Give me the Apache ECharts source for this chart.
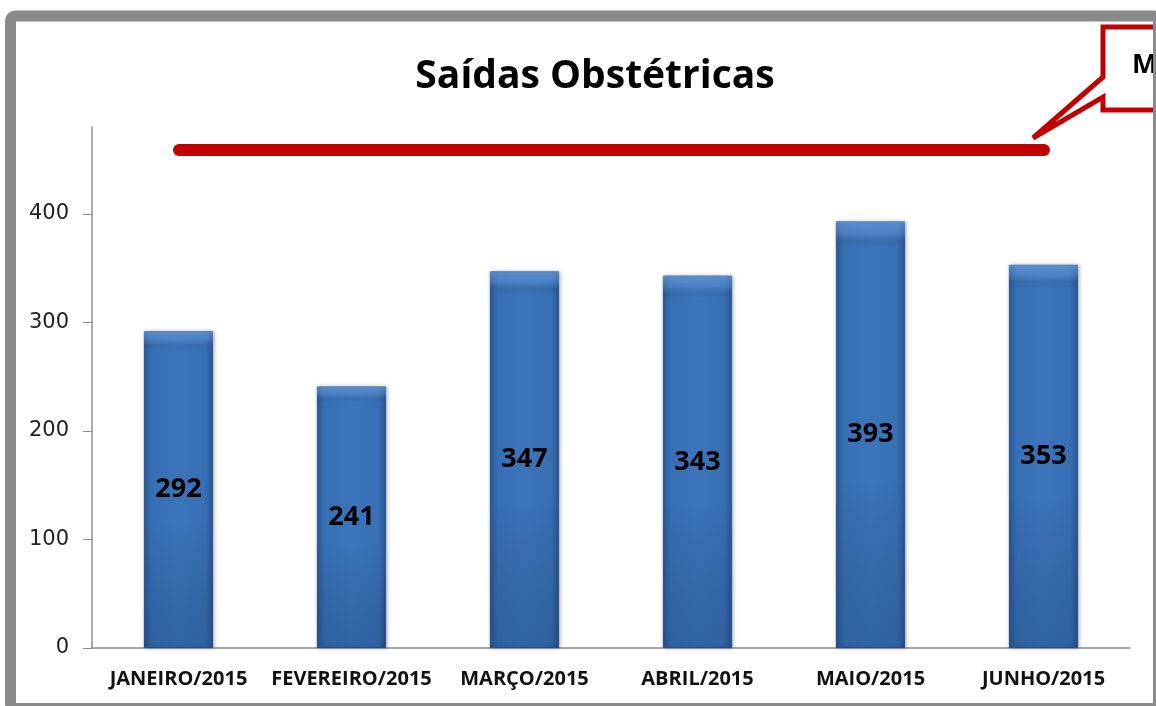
<!DOCTYPE html>
<html>
<head>
    <meta charset="utf-8">
    <title>Saídas Obstétricas</title>
    <script src="https://cdn.jsdelivr.net/npm/echarts/dist/echarts.min.js"></script>
    <style>
        html, body { margin: 0; padding: 0; background: #fff; }
    </style>
</head>
<body>
    <div id="chart" style="width: 1156px; height: 706px;"></div>
    <script type="text/javascript">
        // data
        const months = ['JANEIRO/2015', 'FEVEREIRO/2015', 'MARÇO/2015', 'ABRIL/2015', 'MAIO/2015', 'JUNHO/2015'];
        const saidas = [292, 241, 347, 343, 393, 353];
        const yTicks = [0, 100, 200, 300, 400];

        const font = '"Open Sans", "Noto Sans", sans-serif';

        // bar fill: darker at the edges, lighter in the middle
        const barFill = new echarts.graphic.LinearGradient(0, 0, 1, 0, [
            { offset: 0, color: '#2d5d9c' },
            { offset: 0.12, color: '#3870b5' },
            { offset: 0.5, color: '#3b74ba' },
            { offset: 0.88, color: '#3870b5' },
            { offset: 1, color: '#2b5894' }
        ]);
        // soft darkening toward the bottom, laid over the same bars
        const barShade = new echarts.graphic.LinearGradient(0, 0, 0, 1, [
            { offset: 0, color: 'rgba(120,170,230,0.55)' },
            { offset: 0.03, color: 'rgba(120,170,230,0.25)' },
            { offset: 0.06, color: 'rgba(0,0,0,0)' },
            { offset: 0.6, color: 'rgba(0,0,0,0)' },
            { offset: 1, color: 'rgba(10,30,70,0.18)' }
        ]);

        let myChart = echarts.init(document.getElementById('chart'));
        let option = {
            animation: false,
            backgroundColor: '#fff',
            title: {
                text: 'Saídas Obstétricas',
                left: 590,
                top: 52,
                textAlign: 'center',
                textStyle: { fontFamily: font, fontWeight: 'bold', fontSize: 39, color: '#000' }
            },
            grid: { left: 92, right: 26, top: 127, bottom: 58, containLabel: false },
            xAxis: {
                type: 'category',
                data: months,
                axisLine: { lineStyle: { color: '#8c8c8c', width: 1.5 } },
                axisTick: { show: false },
                axisLabel: {
                    interval: 0,
                    margin: 21,
                    fontFamily: font,
                    fontWeight: 'bold',
                    fontSize: 20,
                    color: '#111'
                }
            },
            yAxis: {
                type: 'value',
                min: 0,
                max: 480,
                interval: 100,
                axisLine: { show: true, lineStyle: { color: '#8c8c8c', width: 1.5 } },
                axisTick: { show: true, length: 9, customValues: yTicks, lineStyle: { color: '#8c8c8c' } },
                splitLine: { show: false },
                axisLabel: {
                    margin: 23,
                    customValues: yTicks,
                    fontFamily: '"DejaVu Sans", sans-serif',
                    fontSize: 21,
                    color: '#222'
                }
            },
            series: [{
                type: 'bar',
                data: saidas,
                barWidth: '40%',
                itemStyle: {
                    color: barFill,
                    borderColor: '#2a5591',
                    borderWidth: 1,
                    shadowColor: 'rgba(0,0,0,0.25)',
                    shadowBlur: 4,
                    shadowOffsetX: 1
                },
                label: {
                    show: true,
                    position: 'inside',
                    fontFamily: font,
                    fontWeight: 'bold',
                    fontSize: 27,
                    color: '#000'
                }
            }, {
                type: 'bar',
                data: saidas,
                barWidth: '40%',
                barGap: '-100%',
                silent: true,
                itemStyle: { color: barShade }
            }],
            graphic: [
                // frame round the picture
                {
                    type: 'rect',
                    shape: { x: 10.5, y: 16, width: 1148, height: 692.5, r: 5 },
                    style: { fill: 'none', stroke: '#8a8a8a', lineWidth: 11 },
                    z: 100
                },
                // red annotation line
                {
                    type: 'line',
                    shape: { x1: 179, y1: 150, x2: 1044, y2: 150 },
                    style: { stroke: '#c00000', lineWidth: 12, lineCap: 'round' },
                    z: 50
                },
                // callout
                {
                    type: 'polygon',
                    shape: {
                        points: [[1103, 27], [1175, 27], [1175, 110], [1103, 110], [1103, 97], [1033, 138], [1103, 77]]
                    },
                    style: { fill: '#fff', stroke: '#c00000', lineWidth: 5, lineJoin: 'miter' },
                    z: 60
                },
                {
                    type: 'text',
                    left: 1132,
                    top: 52,
                    style: { text: 'M', fontFamily: font, fontWeight: 'bold', fontSize: 27, fill: '#000' },
                    z: 61
                }
            ]
        };

        myChart.setOption(option);
    </script>
</body>
</html>
